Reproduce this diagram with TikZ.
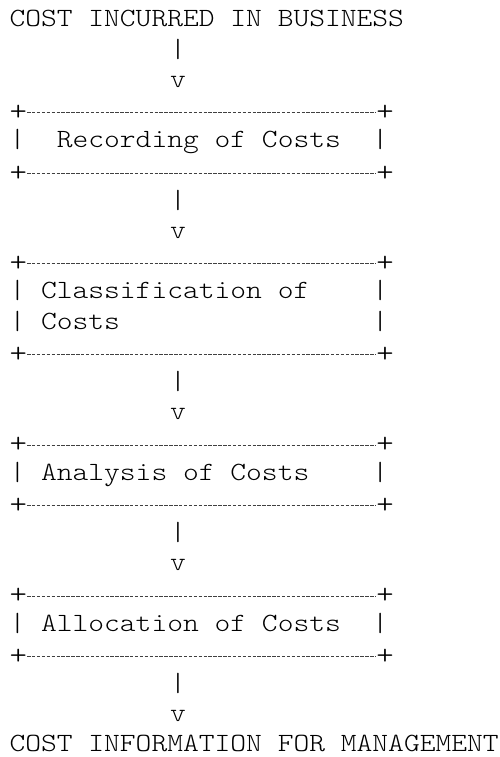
\documentclass[tikz,border=0pt]{standalone}
\usepackage{fontspec}
\setmonofont[FakeStretch=1.143]{Latin Modern Mono Light}
\begin{document}
\begin{tikzpicture}[x=1pt,y=-1pt,
  ascii/.style={font=\ttfamily\fontsize{26.3}{30}\selectfont, text=black, inner sep=0pt, anchor=base west},
  flowch/.style={ascii, anchor=base},
  corner/.style={ascii, font=\ttfamily\fontsize{29}{30}\selectfont, yshift=-3pt},
  cornerR/.style={corner, anchor=base},
  rule/.style={line width=1pt, dash pattern=on 3.4pt off 1.5pt, black!75}]
\useasboundingbox (0,0) rectangle (500,757);

% start label
\node[ascii] (start) at (9.3,27) {COST INCURRED IN BUSINESS};
\node[flowch] (p1) at (178,57.2) {|};
\node[flowch] (v1) at (178,87.4) {v};

% box 1
\node[corner]  (b1tl) at (9.3,117.6) {+};
\node[cornerR] (b1tr) at (385,117.6) {+};
\node[ascii]   (b1)   at (9.3,147.8) {|~~Recording~of~Costs~~|};
\node[corner]  (b1bl) at (9.3,178) {+};
\node[cornerR] (b1br) at (385,178) {+};
\draw[rule] (b1tl.east) -- (b1tr.west);
\draw[rule] (b1bl.east) -- (b1br.west);

\node[flowch] (p2) at (178,208.2) {|};
\node[flowch] (v2) at (178,238.4) {v};

% box 2
\node[corner]  (b2tl) at (9.3,268.6) {+};
\node[cornerR] (b2tr) at (385,268.6) {+};
\node[ascii]   (b2a)  at (9.3,298.8) {|~Classification~of~~~~|};
\node[ascii]   (b2b)  at (9.3,329) {|~Costs~~~~~~~~~~~~~~~~|};
\node[corner]  (b2bl) at (9.3,359.2) {+};
\node[cornerR] (b2br) at (385,359.2) {+};
\draw[rule] (b2tl.east) -- (b2tr.west);
\draw[rule] (b2bl.east) -- (b2br.west);

\node[flowch] (p3) at (178,389.4) {|};
\node[flowch] (v3) at (178,419.6) {v};

% box 3
\node[corner]  (b3tl) at (9.3,449.8) {+};
\node[cornerR] (b3tr) at (385,449.8) {+};
\node[ascii]   (b3)   at (9.3,480) {|~Analysis~of~Costs~~~~|};
\node[corner]  (b3bl) at (9.3,510.2) {+};
\node[cornerR] (b3br) at (385,510.2) {+};
\draw[rule] (b3tl.east) -- (b3tr.west);
\draw[rule] (b3bl.east) -- (b3br.west);

\node[flowch] (p4) at (178,540.4) {|};
\node[flowch] (v4) at (178,570.6) {v};

% box 4
\node[corner]  (b4tl) at (9.3,600.8) {+};
\node[cornerR] (b4tr) at (385,600.8) {+};
\node[ascii]   (b4)   at (9.3,631) {|~Allocation~of~Costs~~|};
\node[corner]  (b4bl) at (9.3,661.2) {+};
\node[cornerR] (b4br) at (385,661.2) {+};
\draw[rule] (b4tl.east) -- (b4tr.west);
\draw[rule] (b4bl.east) -- (b4br.west);

\node[flowch] (p5) at (178,691.4) {|};
\node[flowch] (v5) at (178,721.6) {v};

% end label
\node[ascii] (finish) at (9.3,751.8) {COST INFORMATION FOR MANAGEMENT};
\end{tikzpicture}
\end{document}
